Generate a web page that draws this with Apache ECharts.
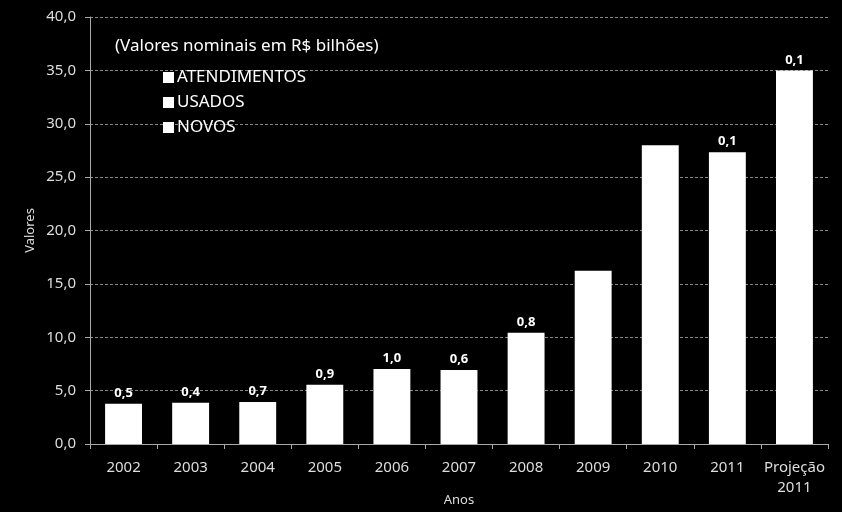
<!DOCTYPE html>
<html><head><meta charset="utf-8">
<script src="https://cdn.jsdelivr.net/npm/echarts@6/dist/echarts.min.js"></script>
<style>html,body{margin:0;padding:0;background:#000}#c{width:842px;height:512px}</style>
</head><body><div id="c"></div>
<script>
const years = ['2002','2003','2004','2005','2006','2007','2008','2009','2010','2011','Projeção\n2011'];
// Total bar heights (NOVOS + USADOS + ATENDIMENTOS, all drawn white)
const totais = [3.78, 3.87, 3.93, 5.56, 7.03, 6.93, 10.43, 16.24, 27.99, 27.33, 35.0];
// ATENDIMENTOS values shown as labels above bars
const atendimentos = [0.5, 0.4, 0.7, 0.9, 1.0, 0.6, 0.8, null, null, 0.1, 0.1];
const legendNames = ['ATENDIMENTOS', 'USADOS', 'NOVOS'];
const yTicks = {min: 0, max: 40, interval: 5};

const fmt = v => v.toFixed(1).replace('.', ',');
const font = 'Noto Sans';
const chart = echarts.init(document.getElementById('c'));
chart.setOption({
  backgroundColor: '#000',
  animation: false,
  textStyle: {fontFamily: font},
  title: {
    text: '(Valores nominais em R$ bilhões)',
    left: 110, top: 33,
    textStyle: {color: '#fff', fontSize: 17, fontWeight: 'normal', fontFamily: font}
  },
  legend: {
    orient: 'vertical', left: 158, top: 64,
    itemWidth: 11, itemHeight: 11, itemGap: 8,
    icon: 'rect',
    data: legendNames,
    textStyle: {color: '#fff', fontSize: 17, fontFamily: font, padding: [0, 0, 0, -2]}
  },
  grid: {left: 90, right: 14, top: 17, bottom: 68, outerBoundsMode: 'none', containLabel: false},
  xAxis: {
    type: 'category', data: years,
    name: 'Anos', nameLocation: 'middle', nameGap: 50, nameMoveOverlap: false,
    nameTextStyle: {color: '#ddd', fontSize: 13},
    axisLine: {lineStyle: {color: '#aaa'}},
    axisTick: {show: true, length: 5, lineStyle: {color: '#aaa'}},
    axisLabel: {color: '#ddd', fontSize: 15, margin: 14, lineHeight: 20, interval: 0}
  },
  yAxis: {
    type: 'value', min: yTicks.min, max: yTicks.max, interval: yTicks.interval,
    name: 'Valores', nameLocation: 'middle', nameGap: 53, nameRotate: 90, nameMoveOverlap: false,
    nameTextStyle: {color: '#ddd', fontSize: 13},
    axisLine: {show: true, lineStyle: {color: '#aaa'}},
    axisTick: {show: true, length: 5, lineStyle: {color: '#aaa'}},
    axisLabel: {color: '#ddd', fontSize: 15, margin: 14, formatter: v => fmt(v)},
    splitLine: {show: true, lineStyle: {color: '#888', type: [3, 2], width: 1}}
  },
  series: [
    {name: 'NOVOS', type: 'bar', stack: 's', data: totais, barWidth: '55%',
     itemStyle: {color: '#fff'},
     label: {show: true, position: 'top', distance: 4, color: '#fff', fontSize: 13, fontWeight: 'bold',
       formatter: p => atendimentos[p.dataIndex] == null ? '' : fmt(atendimentos[p.dataIndex])}},
    {name: 'USADOS', type: 'bar', stack: 's', data: [], barWidth: '55%', itemStyle: {color: '#fff'}},
    {name: 'ATENDIMENTOS', type: 'bar', stack: 's', data: [], barWidth: '55%', itemStyle: {color: '#fff'}}
  ]
});
</script></body></html>
